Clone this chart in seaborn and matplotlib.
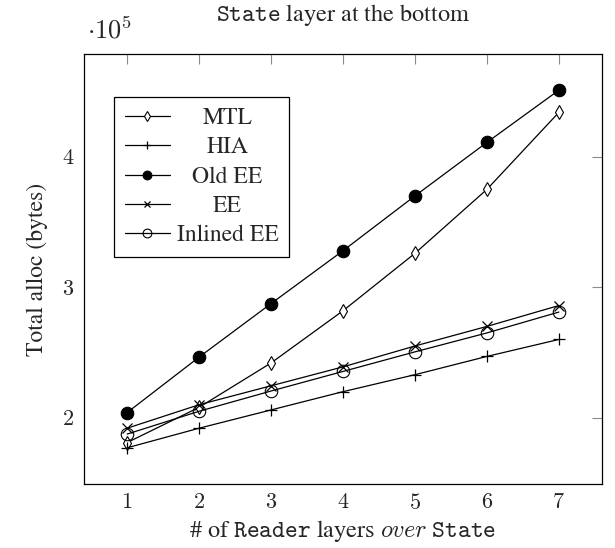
import matplotlib
matplotlib.use("Agg")
import matplotlib.pyplot as plt
from matplotlib.ticker import FuncFormatter
import seaborn as sns
import pandas as pd

# ---- data (values in units of 10^5 bytes) ----
layers = [1, 2, 3, 4, 5, 6, 7]
mtl = [1.81, 2.08, 2.42, 2.82, 3.26, 3.75, 4.34]
hia = [1.77, 1.92, 2.06, 2.20, 2.33, 2.47, 2.60]
old_ee = [2.04, 2.465, 2.875, 3.28, 3.70, 4.11, 4.51]
ee = [1.92, 2.10, 2.245, 2.39, 2.55, 2.70, 2.86]
inlined_ee = [1.875, 2.05, 2.205, 2.355, 2.505, 2.65, 2.81]
series_names = ["MTL", "HIA", "Old EE", "EE", "Inlined EE"]
x_ticks = [1, 2, 3, 4, 5, 6, 7]
y_ticks = [2, 3, 4]

sns.set_style("white")
plt.rcParams["font.family"] = ["STIXGeneral", "Liberation Serif", "DejaVu Serif"]
plt.rcParams["mathtext.fontset"] = "cm"

fig = plt.figure(figsize=(6.15, 5.48), dpi=100)
ax = fig.add_axes([0.1366, 0.1168, 0.8423, 0.7847])

styles = {
    "MTL": dict(marker="d", markersize=7, markerfacecolor="white", markeredgewidth=0.8),
    "HIA": dict(marker="+", markersize=9, markeredgewidth=0.9),
    "Old EE": dict(marker="o", markersize=9, markerfacecolor="black", markeredgewidth=0.8),
    "EE": dict(marker="x", markersize=6.5, markeredgewidth=0.9),
    "Inlined EE": dict(marker="o", markersize=9, markerfacecolor="none", markeredgewidth=0.8),
}
values = [mtl, hia, old_ee, ee, inlined_ee]
for name, vals in zip(series_names, values):
    df = pd.DataFrame({"layers": layers, "alloc": vals})
    sns.lineplot(data=df, x="layers", y="alloc", ax=ax, color="black",
                 linewidth=0.9, label=name, markeredgecolor="black", **styles[name])

ax.set_xlim(0.4, 7.6)
ax.set_ylim(1.4925, 4.7875)
ax.set_xticks(x_ticks)
ax.set_yticks(y_ticks)
fmt = FuncFormatter(lambda v, p: f"${v:g}$")
ax.xaxis.set_major_formatter(fmt)
ax.yaxis.set_major_formatter(fmt)
ax.tick_params(direction="in", length=7, width=0.8, color="#8c8c8c",
               top=True, right=True, labelsize=16, pad=7)
for s in ax.spines.values():
    s.set_color("black")
    s.set_linewidth(0.9)

ax.set_xlabel(r"# of $\mathtt{Reader}$ layers $\mathit{over}$ $\mathtt{State}$",
              fontsize=17.5, labelpad=3)
ax.set_ylabel("Total alloc (bytes)", fontsize=17, labelpad=10)
ax.text(0.5, 1.09, r"$\mathtt{State}$ layer at the bottom", transform=ax.transAxes,
        ha="center", va="center", fontsize=17.5)
ax.text(0.005, 1.035, r"$\cdot 10^5$", transform=ax.transAxes, ha="left",
        va="baseline", fontsize=19)

leg = ax.legend(loc="upper left", bbox_to_anchor=(0.058, 0.9), borderaxespad=0,
                fancybox=False, framealpha=1, edgecolor="black", fontsize=17,
                handlelength=1.9, markerscale=0.7, labelspacing=0.33,
                borderpad=0.45, handletextpad=0.3)
leg.get_frame().set_linewidth(0.9)

# center the legend labels within the text column
fig.canvas.draw()
renderer = fig.canvas.get_renderer()
texts = leg.get_texts()
widths = [t.get_window_extent(renderer).width for t in texts]
maxw = max(widths)
for t, w in zip(texts, widths):
    t.set_position(((maxw - w) / 2, 0))

fig.savefig("out.png", dpi=100)
